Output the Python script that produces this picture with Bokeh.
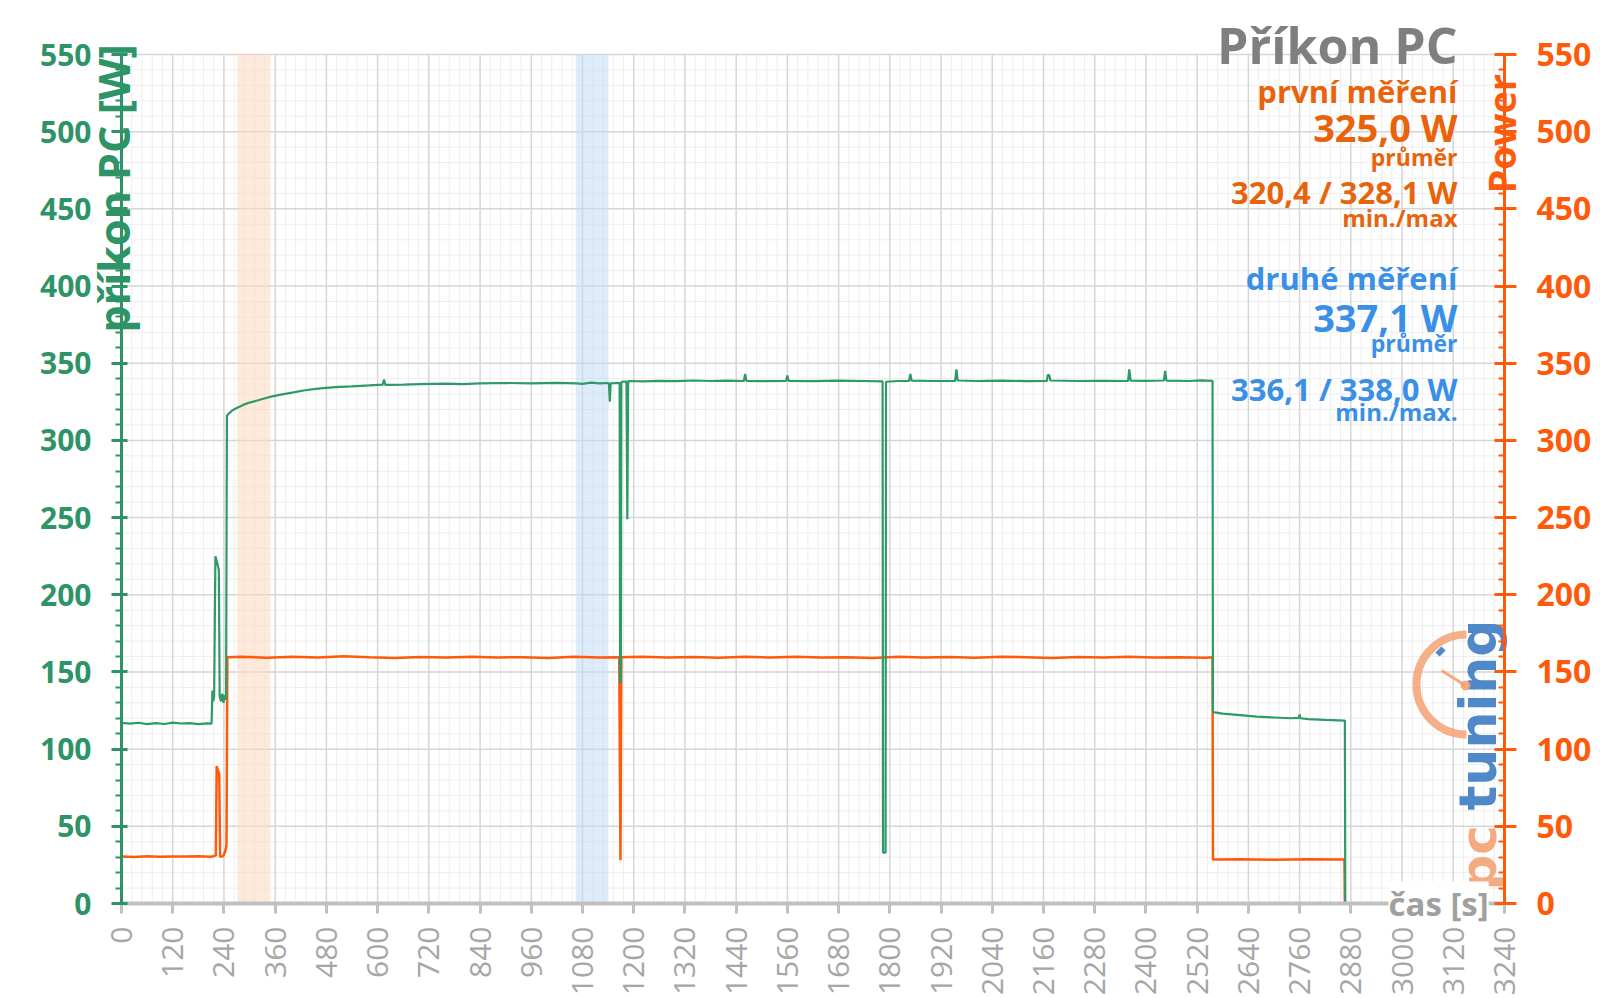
import math
from bokeh.plotting import figure
from bokeh.models import Range1d, LinearAxis, FixedTicker, BoxAnnotation, Label
from bokeh.embed import file_html
from bokeh.resources import INLINE

# ---------------- data ----------------
green_t = [0, 20, 40, 60, 80, 100, 120, 140, 160, 180, 200, 211,
           213, 215, 217, 220, 224, 228, 230, 233, 236, 239, 242, 245, 247,
           250, 260, 270, 285, 300, 320, 345, 370, 400, 430,
           460, 500, 540, 580, 612, 615, 618, 660, 700, 760,
           800, 840, 900, 960, 1020, 1065, 1080, 1100, 1120, 1140,
           1142, 1144, 1146, 1160, 1167, 1168, 1170, 1171, 1183, 1185,
           1187, 1220, 1260, 1300, 1340, 1380, 1420, 1458, 1461, 1464,
           1500, 1557, 1560, 1563, 1620, 1680, 1740, 1783, 1784, 1790,
           1791, 1820, 1845, 1848, 1851, 1900, 1953, 1956, 1959, 2000,
           2060, 2120, 2168, 2170, 2174, 2176, 2240, 2300, 2358, 2361,
           2364, 2400, 2442, 2445, 2448, 2500, 2530, 2556, 2557, 2580,
           2620, 2660, 2700, 2740, 2758, 2760, 2762, 2780, 2820, 2866,
           2867, 2955]
green_w = [117.0, 116.5, 117.1, 116.2, 116.8, 116.3, 117.2, 116.6, 116.9, 116.2, 116.7, 116.5,
           138, 131, 134, 225, 221, 216, 134, 131, 136, 130, 135, 132, 316,
           317, 319.5, 321, 323, 324.5, 326, 328, 329.5, 331, 332.5,
           333.5, 334.5, 335, 335.6, 336.2, 339.5, 336.0, 336.1, 336.4, 336.8,
           336.5, 337, 337.2, 337.0, 337.3, 337.0, 336.6, 337.4, 337.0, 337.2,
           336.8, 325, 337, 337.2, 337.1, 143, 143, 338, 338.1, 249,
           338.5, 338.2, 338.6, 338.4, 338.8, 338.5, 338.7, 338.5, 343, 338.6,
           338.4, 338.6, 342, 338.5, 338.4, 338.7, 338.5, 338.2, 33, 33,
           338, 338.5, 338.6, 343, 338.7, 338.5, 338.6, 346, 338.8, 338.5,
           338.7, 338.4, 338.6, 342.5, 342, 338.8, 338.5, 338.6, 338.5, 346,
           338.7, 338.6, 338.8, 345, 338.7, 338.5, 338.9, 338.6, 124, 123,
           122, 121, 120.5, 120, 120.2, 122.5, 120, 119.5, 119, 118.5,
           0, 0]

orange_t = [0, 30, 60, 90, 120, 150, 180, 210, 221, 223,
            226, 229, 231, 235, 239, 242, 245, 246, 248, 280,
            340, 400, 460, 520, 580, 640, 700, 760, 820, 880,
            940, 1000, 1060, 1120, 1166, 1169, 1171, 1220, 1280, 1340,
            1400, 1460, 1520, 1580, 1640, 1700, 1760, 1820, 1880, 1940,
            2000, 2060, 2120, 2180, 2240, 2300, 2360, 2420, 2480, 2540,
            2556, 2557, 2620, 2700, 2780, 2865, 2866, 2955]
orange_w = [30.5, 30.2, 30.6, 30.3, 30.5, 30.4, 30.6, 30.3, 31, 89,
            86, 84, 30.5, 30.3, 31, 33, 36, 38, 159.5, 159.8,
            159.2, 159.9, 159.4, 160.1, 159.5, 159.0, 159.7, 159.3, 159.9, 159.4,
            159.6, 159.1, 159.8, 159.4, 159.6, 28, 159.5, 159.9, 159.3, 159.7,
            159.2, 159.8, 159.4, 159.9, 159.3, 159.6, 159.1, 159.8, 159.4, 159.7,
            159.2, 159.9, 159.5, 159.1, 159.7, 159.3, 159.8, 159.4, 159.6, 159.2,
            159.5, 28.5, 28.6, 28.4, 28.6, 28.5, 0, 0]

x_ticks = list(range(0, 3241, 120))
x_minor = [v for v in range(0, 3241, 24) if v % 120]
y_ticks = list(range(0, 551, 50))
y_minor = [v for v in range(0, 551, 10) if v % 50]
band_first = (271, 349)
band_second = (1064, 1141)

title_text = "Příkon PC"
first_lines = ["první měření", "325,0 W", "průměr", "320,4 / 328,1 W", "min./max"]
second_lines = ["druhé měření", "337,1 W", "průměr", "336,1 / 338,0 W", "min./max."]

# ---------------- layout ----------------
W, H = 1600, 998
L, T = 121, 54            # where the data area starts (canvas px)
FW, FH = 1383, 849        # data area size (canvas px)
XMAX, YMAX = 3240, 550

# the frame covers the whole canvas; axes are pinned at the data-area edges
x_start = -L / FW * XMAX
x_end = (W - L) / FW * XMAX
y_start = -(H - T - FH) / FH * YMAX
y_end = (T + FH) / FH * YMAX

GREEN = "#2e9467"
GREEN_LINE = "#2e9a68"
ORANGE = "#ff5a0a"
ORANGE_TXT = "#e8640c"
BLUE_TXT = "#3a8fe6"
GREY = "#7f7f7f"
FONT = "Open Sans"
BASE_SHIFT = 0.38  # em offset of rendered baseline

p = figure(width=W, height=H, x_range=Range1d(x_start, x_end), y_range=Range1d(y_start, y_end),
           output_backend="svg", toolbar_location=None,
           min_border_left=0, min_border_right=0, min_border_top=0, min_border_bottom=0)
p.extra_y_ranges = {"power": Range1d(y_start, y_end)}
p.outline_line_color = None
p.background_fill_color = "white"
p.border_fill_color = "white"
p.title.visible = False
p.xgrid.visible = False
p.ygrid.visible = False

# grid (drawn from the tick lists)
p.segment(x0=x_minor, y0=[0] * len(x_minor), x1=x_minor, y1=[YMAX] * len(x_minor),
          line_color="#eeeeee", line_width=1, level="underlay")
p.segment(x0=[0] * len(y_minor), y0=y_minor, x1=[XMAX] * len(y_minor), y1=y_minor,
          line_color="#eeeeee", line_width=1, level="underlay")
p.segment(x0=x_ticks, y0=[0] * len(x_ticks), x1=x_ticks, y1=[YMAX] * len(x_ticks),
          line_color="#d6d6d6", line_width=1.5, level="underlay")
p.segment(x0=[0] * len(y_ticks), y0=y_ticks, x1=[XMAX] * len(y_ticks), y1=y_ticks,
          line_color="#d6d6d6", line_width=1.5, level="underlay")

# x axis
xa = p.xaxis[0]
xa.fixed_location = 0
xa.bounds = (0, XMAX)
xa.ticker = FixedTicker(ticks=x_ticks)
xa.major_label_orientation = math.pi / 2
xa.major_label_text_font = FONT
xa.major_label_text_font_size = "30px"
xa.major_label_text_color = "#a6a6a6"
xa.axis_line_color = "#c0c0c0"
xa.axis_line_width = 4
xa.major_tick_line_color = "#c0c0c0"
xa.major_tick_line_width = 3
xa.major_tick_out = 10
xa.major_tick_in = 0
xa.minor_tick_line_color = None
xa.major_label_standoff = 13

# left axis
ya = p.yaxis[0]
ya.fixed_location = 0
ya.bounds = (0, YMAX)
ya.ticker = FixedTicker(ticks=y_ticks, minor_ticks=y_minor)
ya.major_label_text_font = FONT
ya.major_label_text_font_style = "bold"
ya.major_label_text_font_size = "30px"
ya.major_label_text_color = GREEN
ya.axis_line_color = GREEN
ya.axis_line_width = 3
ya.major_tick_line_color = GREEN
ya.major_tick_line_width = 3
ya.major_tick_out = 10
ya.major_tick_in = 6
ya.minor_tick_line_color = GREEN
ya.minor_tick_line_width = 2
ya.minor_tick_out = 6
ya.minor_tick_in = 0
ya.major_label_standoff = 20

# right axis
ra = LinearAxis(y_range_name="power", fixed_location=XMAX, bounds=(0, YMAX),
                ticker=FixedTicker(ticks=y_ticks, minor_ticks=y_minor))
ra.major_label_text_font = FONT
ra.major_label_text_font_style = "bold"
ra.major_label_text_font_size = "32px"
ra.major_label_text_color = ORANGE
ra.axis_line_color = ORANGE
ra.axis_line_width = 3
ra.major_tick_line_color = ORANGE
ra.major_tick_line_width = 3
ra.major_tick_out = 12
ra.major_tick_in = 10
ra.minor_tick_line_color = ORANGE
ra.minor_tick_line_width = 2
ra.minor_tick_in = 6
ra.minor_tick_out = 0
ra.major_label_standoff = 20
p.add_layout(ra, "right")

# bands
p.add_layout(BoxAnnotation(left=band_first[0], right=band_first[1], bottom=0, top=YMAX,
                           fill_color="#fcd9bd", fill_alpha=0.55, line_color=None, level="underlay"))
p.add_layout(BoxAnnotation(left=band_second[0], right=band_second[1], bottom=0, top=YMAX,
                           fill_color="#c2dbf7", fill_alpha=0.55, line_color=None, level="underlay"))


def lbl(text, cx, cy, size, color, align="right", angle=0.0, style="bold", font=FONT,
        alpha=1.0, level="annotation", bg=None):
    """place text with its baseline at canvas pixel position (cx, cy)"""
    shift = BASE_SHIFT * size
    if angle:
        cx -= shift
    else:
        cy -= shift
    p.add_layout(Label(x=cx, y=H - cy, x_units="screen", y_units="screen",
                       text=text, text_font=font, text_font_size=f"{size}px",
                       text_font_style=style, text_color=color, text_align=align,
                       text_baseline="alphabetic", angle=angle, text_alpha=alpha,
                       level=level, background_fill_color=bg))


# logo (decoration)
def dx(px):
    return x_start + px / W * (x_end - x_start)


def dy(py):
    return y_end - py / H * (y_end - y_start)


LOGO_O = "#f4a274"
LOGO_B = "#3d7cc4"
lbl("tuning", 1497, 810, 52, LOGO_B, align="left", angle=math.pi / 2,
    font="DejaVu Sans", alpha=0.9, level="underlay")
lbl("pc", 1497, 890, 50, LOGO_O, align="left", angle=math.pi / 2,
    font="DejaVu Sans", alpha=0.9, level="underlay")
p.arc(x=[dx(1466)], y=[dy(684)], radius=50, radius_units="screen",
      start_angle=math.pi / 2, end_angle=3 * math.pi / 2,
      line_width=8, line_color=LOGO_O, line_alpha=0.85)
p.segment(x0=[dx(1441)], y0=[dy(670)], x1=[dx(1465)], y1=[dy(685)],
          line_width=3, line_color=LOGO_O, line_alpha=0.9)
p.scatter(x=[dx(1465)], y=[dy(685)], size=9, color=LOGO_O, alpha=0.9)
p.segment(x0=[dx(1437)], y0=[dy(654)], x1=[dx(1443)], y1=[dy(648)],
          line_width=6, line_color=LOGO_B, line_alpha=0.9)

# lines
p.line(orange_t, orange_w, color=ORANGE, line_width=2.5, y_range_name="power")
p.line(green_t, green_w, color=GREEN_LINE, line_width=2.2)

# title & stats block
RX = 1457
lbl(title_text, RX, 63, 50, GREY)
sizes = [31, 38, 23, 31, 24]
base1 = [102, 141, 165, 203, 226]
base2 = [289, 331, 351, 400, 420]
for t, s, b in zip(first_lines, sizes, base1):
    lbl(t, RX, b, s, ORANGE_TXT)
for t, s, b in zip(second_lines, sizes, base2):
    lbl(t, RX, b, s, BLUE_TXT)

# axis titles
lbl("příkon PC [W]", 129, 332, 43, GREEN, align="left", angle=math.pi / 2)
lbl("Power", 1515, 193, 38, ORANGE, align="left", angle=math.pi / 2)
lbl("čas [s]", 1388, 916, 33, "#a0a0a0", align="left", bg="white")

open("out.html", "w").write(file_html(p, INLINE))
